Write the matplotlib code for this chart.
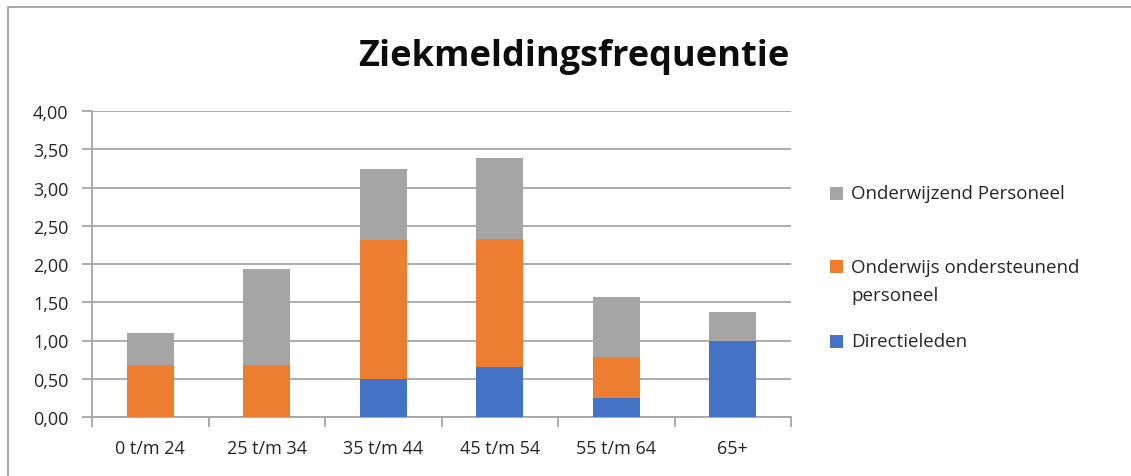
import numpy as np
import matplotlib.pyplot as plt
from matplotlib.patches import Rectangle
from matplotlib.lines import Line2D

# data
categories = ['0 t/m 24', '25 t/m 34', '35 t/m 44', '45 t/m 54', '55 t/m 64', '65+']
directie = [0.00, 0.00, 0.50, 0.66, 0.25, 1.00]
ondersteunend = [0.68, 0.68, 1.81, 1.67, 0.54, 0.00]
onderwijzend = [0.42, 1.26, 0.93, 1.05, 0.78, 0.37]
series_names = ['Directieleden', 'Onderwijs ondersteunend\npersoneel', 'Onderwijzend Personeel']
colors = ['#4472C4', '#ED7D31', '#A5A5A5']

plt.rcParams['font.family'] = ['Open Sans', 'DejaVu Sans']

W, H = 1131, 477
fig = plt.figure(figsize=(W / 100, H / 100), dpi=100)

# kader om de grafiek (alleen links en boven zichtbaar)
fig.lines.append(Line2D([8 / W, 8 / W, 1.0], [0.0, (H - 8) / H, (H - 8) / H], transform=fig.transFigure,
                        color='#a0a0a0', linewidth=1.3))

ax = fig.add_axes([92 / W, (H - 418) / H, (791 - 92) / W, (418 - 112) / H])

x = np.arange(len(categories))
bottom = np.zeros(len(categories))
for vals, name, c in zip([directie, ondersteunend, onderwijzend], series_names, colors):
    ax.bar(x, vals, width=0.4, bottom=bottom, color=c, label=name, zorder=3)
    bottom = bottom + np.array(vals)

ax.set_xlim(-0.5, len(categories) - 0.5)
ax.set_ylim(0, 4)
ax.set_yticks(np.arange(0, 4.01, 0.5))
ax.set_yticklabels([f'{v:.2f}'.replace('.', ',') for v in np.arange(0, 4.01, 0.5)])
ax.set_xticks(x)
ax.set_xticklabels(categories)
ax.set_xticks(np.arange(-0.5, len(categories)), minor=True)
ax.tick_params(axis='x', which='major', length=0, pad=16, labelsize=13, labelcolor='#262626')
ax.tick_params(axis='x', which='minor', length=7, width=1.3, color='#a6a6a6')
ax.tick_params(axis='y', length=7, width=1.3, color='#a6a6a6', pad=10, labelsize=13, labelcolor='#262626')

ax.grid(axis='y', color='#a6a6a6', linewidth=1.3, zorder=0)
for s in ['top', 'right']:
    ax.spines[s].set_visible(False)
for s in ['left', 'bottom']:
    ax.spines[s].set_color('#a6a6a6')
    ax.spines[s].set_linewidth(1.3)

fig.text(574 / W, (H - 57) / H, 'Ziekmeldingsfrequentie', ha='center', va='center',
         fontsize=26, fontweight='bold', color='#0d0d0d')

# legenda (omgekeerde volgorde, zoals in Excel)
leg_y = [194, 282, 342]
for name, c, yy in zip(series_names[::-1], colors[::-1], leg_y):
    nlines = name.count('\n') + 1
    top = yy - (nlines - 1) * 14.5
    fig.patches.append(Rectangle((830 / W, (H - top - 6.5) / H), 13 / W, 13 / H,
                                 transform=fig.transFigure, facecolor=c, edgecolor='none'))
    fig.text(851 / W, (H - yy) / H, name, ha='left', va='center', fontsize=13.5,
             color='#262626', linespacing=1.75)

fig.savefig('out.png', dpi=100)
